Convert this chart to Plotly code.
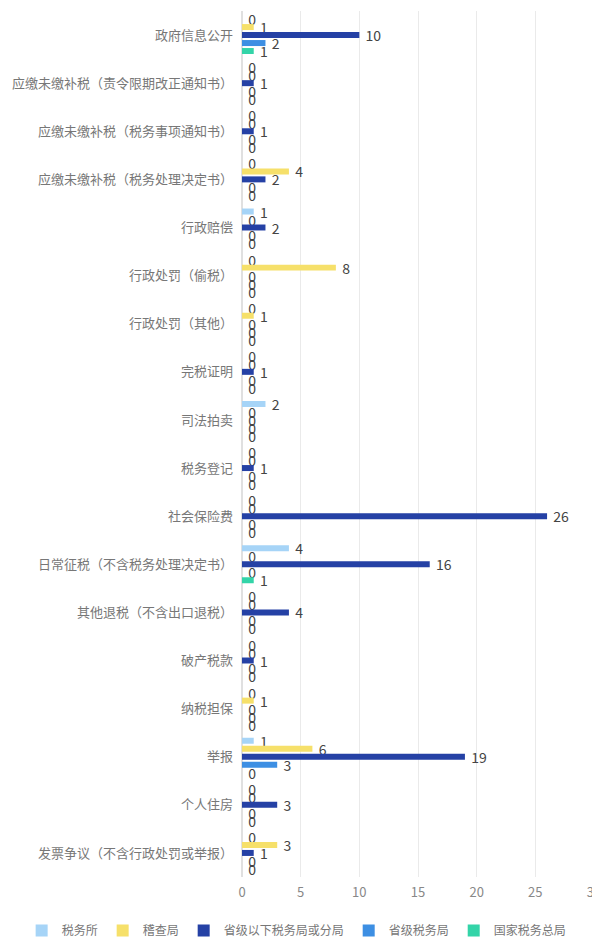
import plotly.graph_objects as go

categories = [
    "政府信息公开",
    "应缴未缴补税（责令限期改正通知书）",
    "应缴未缴补税（税务事项通知书）",
    "应缴未缴补税（税务处理决定书）",
    "行政赔偿",
    "行政处罚（偷税）",
    "行政处罚（其他）",
    "完税证明",
    "司法拍卖",
    "税务登记",
    "社会保险费",
    "日常征税（不含税务处理决定书）",
    "其他退税（不含出口退税）",
    "破产税款",
    "纳税担保",
    "举报",
    "个人住房",
    "发票争议（不含行政处罚或举报）",
]

series_names = ["税务所", "稽查局", "省级以下税务局或分局", "省级税务局", "国家税务总局"]
shuiwusuo = [0, 0, 0, 0, 1, 0, 0, 0, 2, 0, 0, 4, 0, 0, 0, 1, 0, 0]
jichaju = [1, 0, 0, 4, 0, 8, 1, 0, 0, 0, 0, 0, 0, 0, 1, 6, 0, 3]
shengjiyixia = [10, 1, 1, 2, 2, 0, 0, 1, 0, 1, 26, 16, 4, 1, 0, 19, 3, 1]
shengji = [2, 0, 0, 0, 0, 0, 0, 0, 0, 0, 0, 0, 0, 0, 0, 3, 0, 0]
guojia = [1, 0, 0, 0, 0, 0, 0, 0, 0, 0, 0, 1, 0, 0, 0, 0, 0, 0]
series_values = [shuiwusuo, jichaju, shengjiyixia, shengji, guojia]
colors = ["#a6d4f7", "#f6e06a", "#2541a5", "#3d8fe3", "#33d4a8"]

x_ticks = [0, 5, 10, 15, 20, 25, 30]

font_family = "Noto Sans CJK SC"

fig = go.Figure()
for name, vals, col in zip(series_names, series_values, colors):
    fig.add_trace(go.Bar(
        name=name,
        y=categories,
        x=vals,
        orientation="h",
        marker=dict(color=col, line=dict(width=0)),
        text=[str(v) for v in vals],
        texttemplate="\u00a0\u00a0%{text}",
        textposition="outside",
        constraintext="none",
        textfont=dict(color="#444444", size=14, family=font_family),
        cliponaxis=False,
    ))

fig.update_layout(
    width=600,
    height=944,
    barmode="group",
    bargap=0.17,
    bargroupgap=0.25,
    plot_bgcolor="white",
    paper_bgcolor="white",
    margin=dict(l=234, r=14, t=3, b=75),
    font=dict(family=font_family, color="#777777", size=13),
    xaxis=dict(
        range=[0, 30],
        tickvals=x_ticks,
        showgrid=True,
        gridcolor="#eaeaea",
        zeroline=True,
        zerolinecolor="#e0e0e0",
        showline=False,
        tickfont=dict(size=13, color="#888888"),
        ticks="",
        ticklabelstandoff=6,
    ),
    yaxis=dict(
        autorange="reversed",
        showgrid=False,
        ticks="",
        ticklabelstandoff=8,
        tickfont=dict(size=13, color="#777777"),
        automargin=False,
    ),
    legend=dict(
        orientation="h",
        x=-0.626,
        xanchor="left",
        y=-0.045,
        yanchor="top",
        font=dict(size=12, color="#777777"),
        traceorder="normal",
        itemwidth=30,
        tracegroupgap=0,
    ),
)

fig.write_html("out.html")
